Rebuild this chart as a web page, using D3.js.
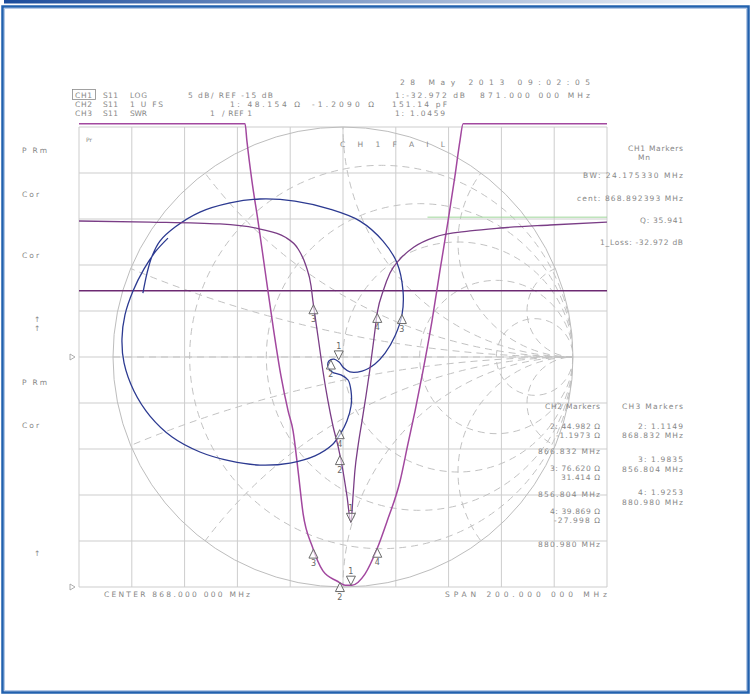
<!DOCTYPE html>
<html>
<head>
<meta charset="utf-8">
<script src="https://cdn.jsdelivr.net/npm/d3@7"></script>
<style>
  body { margin: 0; background: #fff; }
  svg text { font-family: "DejaVu Sans", sans-serif; font-size: 7.5px; fill: #878787; }
</style>
</head>
<body>
<div id="chart"></div>
<script>
// sweep (MHz)
const sweep = [768, 968];

// CH1 S11 log mag (dB)
const ch1Freq = [768, 794.9, 821.4, 836.6, 846.0, 851.0, 854.0, 855.9, 856.6, 857.4, 858.5, 860.4, 862.3, 864.2, 866.1, 868.0, 869.5, 871.0,
  871.8, 872.5, 873.7, 875.2, 876.7, 878.1, 879.6, 881.1, 883.2, 885.8, 889.6, 894.9, 902.8, 916.1, 927.5, 946.4, 968];
const ch1Db = [-0.22, -0.33, -0.54, -1.09, -1.96, -3.26, -5.11, -7.28, -8.91, -10.54, -12.72, -16.52, -19.78, -22.5, -24.67, -27.39, -30.11, -32.97,
  -30.11, -27.39, -24.67, -21.96, -19.24, -16.52, -13.26, -10.0, -7.83, -5.87, -4.35, -3.04, -1.96, -1.30, -0.98, -0.65, -0.33];
const ch1LimitDb = -7.8;
const ch1UpperDb = 0.2;
const ch1UpperFreq = [900, 968];

// CH3 S11 SWR
const ch3Freq = [768, 830.9, 831.6, 833.5, 835.8, 838.5, 841.5, 844.5, 847.2, 849.1, 851.0, 852.9, 856.3, 860.4, 865.7, 868.8,
  871.4, 876.3, 880.9, 884.7, 889.6, 892.6, 895.3, 898.3, 901.7, 904.7, 907.8, 910.4, 912.3, 913.5, 968];
const ch3Swr = [11.07, 11.07, 10.70, 9.83, 8.96, 7.87, 6.67, 5.59, 4.83, 4.39, 3.52, 2.59, 1.89, 1.35, 1.13, 1.04,
  1.04, 1.28, 1.83, 2.43, 3.30, 4.11, 4.83, 5.70, 6.78, 7.87, 8.96, 9.93, 10.70, 11.07, 11.07];

// CH2 S11 smith (reflection coefficient, sweep order)
const ch2Re = [-0.870, -0.852, -0.830, -0.796, -0.730, -0.622, -0.491, -0.361, -0.209, -0.057, 0.074, 0.174, 0.235, 0.261, 0.257,
  0.226, 0.183, 0.139, 0.083, 0.030, 0.004, -0.017, -0.039, -0.061, -0.065, -0.048, -0.009, 0.022, 0.035, 0.035, 0.017, -0.009,
  -0.048, -0.122, -0.230, -0.361, -0.491, -0.622, -0.743, -0.839, -0.909, -0.952, -0.961, -0.948, -0.913, -0.865, -0.813, -0.761];
const ch2Im = [0.278, 0.365, 0.439, 0.504, 0.565, 0.630, 0.670, 0.687, 0.678, 0.643, 0.591, 0.504, 0.409, 0.287, 0.187,
  0.091, 0.017, -0.030, -0.061, -0.065, -0.048, -0.022, -0.009, -0.017, -0.043, -0.065, -0.078, -0.100, -0.148, -0.213, -0.278, -0.330,
  -0.383, -0.430, -0.461, -0.470, -0.452, -0.413, -0.348, -0.257, -0.148, -0.026, 0.078, 0.183, 0.287, 0.383, 0.461, 0.517];

// markers
const markerId = ["1", "2", "3", "4"];
const markerFreq = [871.0, 866.832, 856.804, 880.98];
const ch2MarkerR = [48.154, 44.982, 76.62, 39.869];
const ch2MarkerX = [-1.209, -1.1973, 31.414, -27.998];
const z0 = 50;

// smith grid
const smithR = [0.2, 0.5, 1, 2, 5];
const smithX = [0.2, 0.5, 1, 2, 5];

// annotation texts
const dateText = "28 May 2013   09:02:05";
const chanNames = ["CH1", "CH2", "CH3"];
const chanParams = ["S11", "S11", "S11"];
const chanFormats = ["LOG", "1 U FS", "SWR"];
const ch1Header = ["5 dB/ REF -15 dB", "1:-32.972 dB", "871.000 000 MHz"];
const ch2Header = ["1: 48.154 Ω", "-1.2090 Ω", "151.14 pF"];
const ch3Header = ["1", "/ REF 1", "1: 1.0459"];
const ch1Panel = ["CH1 Markers", "Mn", "BW: 24.175330 MHz", "cent: 868.892393 MHz", "Q: 35.941", "1_Loss: -32.972 dB"];
const ch2Panel = ["CH2 Markers", "2: 44.982 Ω", "-1.1973 Ω", "866.832 MHz", "3: 76.620 Ω", "31.414 Ω", "856.804 MHz",
  "4: 39.869 Ω", "-27.998 Ω", "880.980 MHz"];
const ch3Panel = ["CH3 Markers", "2: 1.1149", "868.832 MHz", "3: 1.9835", "856.804 MHz", "4: 1.9253", "880.980 MHz"];
const leftLabels = ["P Rm", "Cor", "Cor", "↑", "↑", "P Rm", "Cor", "↑"];
const footer = ["CENTER 868.000 000 MHz", "SPAN 200.000 000 MHz"];
const failText = "C H 1   F A I L";

const W = 751, H = 698;
const svg = d3.select("#chart").append("svg").attr("width", W).attr("height", H);
svg.append("rect").attr("width", W).attr("height", H).attr("fill", "#fff");

// window frame
const grad = svg.append("defs").append("linearGradient").attr("id", "bar");
grad.append("stop").attr("offset", "0%").attr("stop-color", "#1b4c9c");
grad.append("stop").attr("offset", "100%").attr("stop-color", "#ffffff");
svg.append("rect").attr("x", 4).attr("y", 0).attr("width", 747).attr("height", 3.5).attr("fill", "url(#bar)");
svg.append("rect").attr("x", 2.5).attr("y", 6.5).attr("width", 746).attr("height", 686)
  .attr("fill", "none").attr("stroke", "#2261ae").attr("stroke-width", 2.5);
svg.append("rect").attr("x", 4.5).attr("y", 8.5).attr("width", 742).attr("height", 682)
  .attr("fill", "none").attr("stroke", "#b5c9e6").attr("stroke-width", 1);

const grid = { left: 79, right: 607, top: 127, bottom: 587 };
const x = d3.scaleLinear().domain(sweep).range([grid.left, grid.right]);
const yDb = d3.scaleLinear().domain([-40, 10]).range([grid.bottom, grid.top]);
const ySwr = d3.scaleLinear().domain([1, 11]).range([grid.bottom, grid.top]);
const R = (grid.bottom - grid.top) / 2;
const cx = (grid.left + grid.right) / 2, cy = (grid.top + grid.bottom) / 2;
const gx = d3.scaleLinear().domain([-1, 1]).range([cx - R, cx + R]);
const gy = d3.scaleLinear().domain([-1, 1]).range([cy + R, cy - R]);

// graticule
const g = svg.append("g");
g.selectAll(".vl").data(d3.range(sweep[0], sweep[1] + 1, 20)).enter().append("line")
  .attr("x1", d => x(d)).attr("x2", d => x(d)).attr("y1", grid.top).attr("y2", grid.bottom)
  .attr("stroke", "#cdcdcd").attr("stroke-width", 1);
g.selectAll(".hl").data(d3.range(-40, 11, 5)).enter().append("line")
  .attr("x1", grid.left).attr("x2", grid.right).attr("y1", d => yDb(d)).attr("y2", d => yDb(d))
  .attr("stroke", "#cdcdcd").attr("stroke-width", 1);

// smith chart grid
svg.append("clipPath").attr("id", "unit").append("circle").attr("cx", cx).attr("cy", cy).attr("r", R);
const sg = svg.append("g").attr("clip-path", "url(#unit)")
  .attr("fill", "none").attr("stroke", "#c2c2c2").attr("stroke-dasharray", "7,5");
sg.selectAll(".rc").data(smithR).enter().append("circle")
  .attr("cx", r => gx(r / (1 + r))).attr("cy", gy(0)).attr("r", r => R / (1 + r));
sg.selectAll(".xa").data(smithX.flatMap(v => [v, -v])).enter().append("circle")
  .attr("cx", gx(1)).attr("cy", v => gy(1 / v)).attr("r", v => R / Math.abs(v));
sg.append("line").attr("x1", gx(-1)).attr("x2", gx(1)).attr("y1", gy(0)).attr("y2", gy(0));
svg.append("circle").attr("cx", cx).attr("cy", cy).attr("r", R)
  .attr("fill", "none").attr("stroke", "#bdbdbd").attr("stroke-width", 1);

// CH1 limit lines
svg.append("line").attr("x1", x(sweep[0])).attr("x2", x(sweep[1]))
  .attr("y1", yDb(ch1LimitDb)).attr("y2", yDb(ch1LimitDb))
  .attr("stroke", "#6d2a72").attr("stroke-width", 1.3);
svg.append("line").attr("x1", x(ch1UpperFreq[0])).attr("x2", x(ch1UpperFreq[1]))
  .attr("y1", yDb(ch1UpperDb)).attr("y2", yDb(ch1UpperDb))
  .attr("stroke", "#9fd69a").attr("stroke-width", 1);

// traces
const idx = a => d3.range(a.length);
svg.append("path").datum(idx(ch3Freq))
  .attr("d", d3.line().x(i => x(ch3Freq[i])).y(i => ySwr(ch3Swr[i])).curve(d3.curveMonotoneX))
  .attr("fill", "none").attr("stroke", "#a2489f").attr("stroke-width", 1.5);
svg.append("path").datum(idx(ch2Re))
  .attr("d", d3.line().x(i => gx(ch2Re[i])).y(i => gy(ch2Im[i])).curve(d3.curveCatmullRom))
  .attr("fill", "none").attr("stroke", "#2c3a91").attr("stroke-width", 1.3);
svg.append("path").datum(idx(ch1Freq))
  .attr("d", d3.line().x(i => x(ch1Freq[i])).y(i => yDb(ch1Db[i])).curve(d3.curveMonotoneX))
  .attr("fill", "none").attr("stroke", "#7a3d86").attr("stroke-width", 1.3);

// markers
function marker(px, py, id, active) {
  const m = svg.append("g");
  const pts = active
    ? [[px, py], [px - 4.5, py - 9], [px + 4.5, py - 9]]
    : [[px, py], [px - 4.5, py + 9], [px + 4.5, py + 9]];
  m.append("polygon").attr("points", pts.map(p => p.join(",")).join(" "))
    .attr("fill", "#fff").attr("fill-opacity", 0.6).attr("stroke", "#6a6a6a").attr("stroke-width", 1);
  m.append("text").attr("x", px).attr("y", active ? py - 11 : py + 17)
    .attr("text-anchor", "middle").style("font-size", "8px").style("fill", "#666").text(id);
}
const ch1At = d3.scaleLinear().domain(ch1Freq).range(ch1Db);
const ch3At = d3.scaleLinear().domain(ch3Freq).range(ch3Swr);
markerFreq.forEach((f, i) => {
  marker(x(f), yDb(ch1At(f)), markerId[i], i === 0);
  marker(x(f), ySwr(ch3At(f)), markerId[i], i === 0);
  const zr = ch2MarkerR[i] / z0, zi = ch2MarkerX[i] / z0;
  const den = (zr + 1) * (zr + 1) + zi * zi;
  const gr = ((zr - 1) * (zr + 1) + zi * zi) / den;
  const gi = (zi * (zr + 1) - (zr - 1) * zi) / den;
  marker(gx(gr), gy(gi), markerId[i], i === 0);
});

// reference position arrows
[yDb(-15), grid.bottom].forEach(yy => {
  svg.append("polygon").attr("points", `${grid.left - 9},${yy - 3} ${grid.left - 9},${yy + 3} ${grid.left - 4},${yy}`)
    .attr("fill", "none").attr("stroke", "#9a9a9a").attr("stroke-width", 0.8);
});

// text helper
function txt(s, tx, ty, len, anchor) {
  const t = svg.append("text").attr("x", tx).attr("y", ty).text(s);
  if (len) t.attr("textLength", len).attr("lengthAdjust", "spacing");
  if (anchor) t.attr("text-anchor", anchor);
  return t;
}

// header
txt(dateText, 400, 85, 190);
const rowY = [98, 107, 116];
chanNames.forEach((c, i) => {
  txt(c, 75, rowY[i], 17);
  txt(chanParams[i], 103, rowY[i], 15);
});
svg.append("rect").attr("x", 72.5).attr("y", 89.5).attr("width", 23).attr("height", 10)
  .attr("fill", "none").attr("stroke", "#8a8a8a").attr("stroke-width", 0.8);
txt(chanFormats[0], 130, rowY[0], 17);
txt(chanFormats[1], 130, rowY[1], 33);
txt(chanFormats[2], 130, rowY[2], 17);
txt(ch1Header[0], 188, rowY[0], 85);
txt(ch1Header[1], 395, rowY[0], 70);
txt(ch1Header[2], 480, rowY[0], 110);
txt(ch2Header[0], 230, rowY[1], 70);
txt(ch2Header[1], 312, rowY[1], 62);
txt(ch2Header[2], 392, rowY[1], 55);
txt(ch3Header[0], 210, rowY[2]);
txt(ch3Header[1], 222, rowY[2], 30);
txt(ch3Header[2], 395, rowY[2], 50);

txt(failText, 340, 147, 105);
txt("Pr", 86, 142).style("font-size", "6px");

// left annotations
const leftPos = [[22, 153, 25], [22, 197, 17], [22, 258, 17], [34, 322], [34, 331], [22, 385, 25], [22, 428, 17], [34, 556]];
leftLabels.forEach((s, i) => txt(s, leftPos[i][0], leftPos[i][1], leftPos[i][2]));

// CH1 marker panel
txt(ch1Panel[0], 628, 151, 55);
txt(ch1Panel[1], 638, 160, 12);
txt(ch1Panel[2], 583, 178, 100);
txt(ch1Panel[3], 577, 201, 106);
txt(ch1Panel[4], 640, 223, 43);
txt(ch1Panel[5], 600, 245, 83);

// CH2 marker panel
const ch2Pos = [[545, 409, 55], [550, 429, 50], [556, 438, 44], [538, 454, 62], [550, 471, 50], [561, 480, 39], [538, 497, 62],
  [550, 514, 50], [554, 523, 46], [538, 547, 62]];
ch2Panel.forEach((s, i) => txt(s, ch2Pos[i][0], ch2Pos[i][1], ch2Pos[i][2]));

// CH3 marker panel
const ch3Pos = [[622, 409, 61], [638, 429, 45], [622, 438, 61], [638, 462, 45], [622, 472, 61], [638, 495, 45], [622, 505, 61]];
ch3Panel.forEach((s, i) => txt(s, ch3Pos[i][0], ch3Pos[i][1], ch3Pos[i][2]));

// footer
txt(footer[0], 104, 597, 146);
txt(footer[1], 445, 597, 162);
</script>
</body>
</html>
